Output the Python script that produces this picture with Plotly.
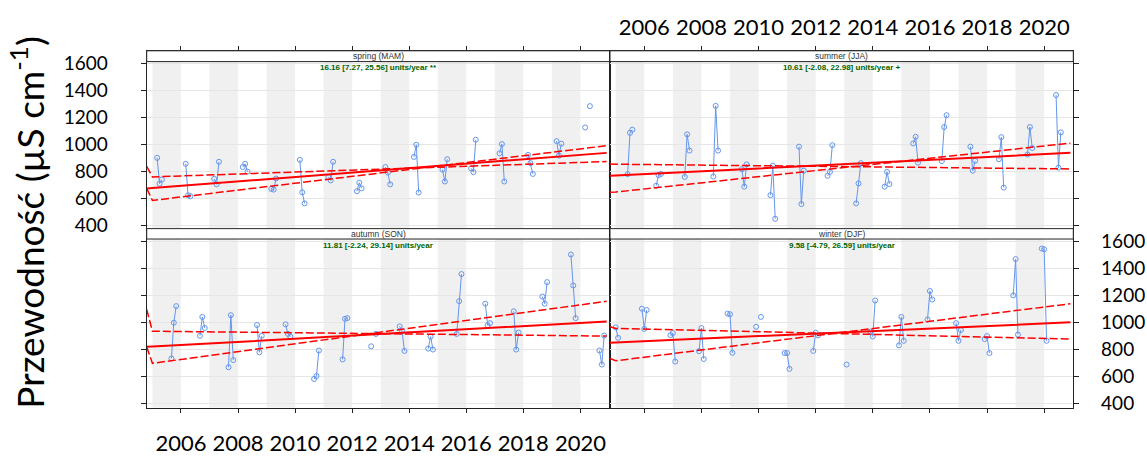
import plotly.graph_objects as go

# ---------------- data ----------------
years = list(range(2005, 2021))

spring_mar = [899, 855, 744, 831, 669, 884, 756, 652, 831, 906, 812, 822, 933, 921, 1023, 1124]
spring_apr = [708, 622, 703, 855, 664, 644, 732, 715, 790, 996, 724, 793, 1001, 860, 916, None]
spring_may = [739, 615, 870, 797, 746, 562, 870, 673, 703, 642, 889, 1033, 724, 780, 1004, 1282]

summer_jun = [778, 693, 758, 761, 815, 623, 982, 766, 562, 686, 1006, 875, 982, 889, 924, 1364]
summer_jul = [1084, 771, 1073, 1284, 686, 841, 557, 795, 710, 795, 1055, 1127, 804, 1052, 1127, 826]
summer_aug = [1108, 780, 953, 953, 851, 448, 804, 993, 860, 705, 863, 1215, 877, 679, 972, 1088]

autumn_sep = [734, 902, 669, 982, 987, 582, 727, 824, 972, 807, 916, 1140, 1084, 1193, 1505, 793]
autumn_oct = [999, 1042, 1055, 780, 916, 604, 1028, None, 936, 896, 1159, 980, 800, 1140, 1275, 689]
autumn_nov = [1122, 960, 722, 902, 896, 793, 1033, 916, 790, 800, 1360, 996, 926, 1300, 1033, 904]

# winter season year = year of Jan/Feb; Dec belongs to the previous calendar year
winter_dec = [None, 1103, 907, 788, 1067, 969, 774, 790, None, 933, 831, 1023, 996, 878, 1202, 1549]
winter_jan = [965, 953, 922, 960, 1062, None, 774, 925, None, 897, 1042, 1234, 865, 900, 1471, 1544]
winter_feb = [887, 1093, 711, 730, 776, 1042, 657, 905, 689, 1164, 865, 1171, 945, 774, 911, 865]

# trend lines (Theil-Sen fit and its 95% interval lines), knots
trend_x = [2004.80, 2005.0, 2020.92]
spring_fit = [673, 676, 936]
spring_ci_a = [836, 758, 872]
spring_ci_b = [673, 584, 989]
summer_fit = [766, 768, 936]
summer_ci_a = [853, 852, 817]
summer_ci_b = [644, 646, 1008]
autumn_fit = [820, 822, 1008]
autumn_ci_a = [1098, 936, 900]
autumn_ci_b = [820, 698, 1158]
winter_fit = [851, 853, 1002]
winter_ci_a = [969, 957, 878]
winter_ci_b = [734, 717, 1140]

strip_labels = ["spring (MAM)", "summer (JJA)", "autumn (SON)", "winter (DJF)"]
slope_labels = ["16.16 [7.27, 25.56] units/year **",
                "10.61 [-2.08, 22.98] units/year +",
                "11.81 [-2.24, 29.14] units/year",
                "9.58 [-4.79, 26.59] units/year"]

x_ticks = [2006, 2008, 2010, 2012, 2014, 2016, 2018, 2020]
y_ticks = [400, 600, 800, 1000, 1200, 1400, 1600]
y_title = "Przewodność (µS cm<sup>-1</sup>)"

# ---------------- helpers ----------------
def season_series(month_cols, month_offsets):
    xs, ys = [], []
    for i, yr in enumerate(years):
        for col, off in zip(month_cols, month_offsets):
            v = col[i]
            if v is None:
                xs.append(None); ys.append(None)
            else:
                xs.append(yr + off); ys.append(v)
        xs.append(None); ys.append(None)
    return xs, ys

series = [
    season_series([spring_mar, spring_apr, spring_may], [2/12, 3/12, 4/12]),
    season_series([summer_jun, summer_jul, summer_aug], [5/12, 6/12, 7/12]),
    season_series([autumn_sep, autumn_oct, autumn_nov], [8/12, 9/12, 10/12]),
    season_series([winter_dec, winter_jan, winter_feb], [-1/12, 0.0, 1/12]),
]
trends = [
    (spring_fit, spring_ci_a, spring_ci_b),
    (summer_fit, summer_ci_a, summer_ci_b),
    (autumn_fit, autumn_ci_a, autumn_ci_b),
    (winter_fit, winter_ci_a, winter_ci_b),
]

W, H = 1147, 456
XR = [2004.80, 2021.02]
top_rng = [378.2, 1691.6]; top_panel_top = 1611.6
bot_rng = [368.7, 1696.9]; bot_panel_top = 1619.7
ranges = [top_rng, top_rng, bot_rng, bot_rng]
panel_tops = [top_panel_top, top_panel_top, bot_panel_top, bot_panel_top]

dom_x = [[146.7 / W, 609.5 / W], [610.0 / W, 1073.3 / W]]
dom_y_top = [1 - 232.3 / H, 1 - 51.7 / H]
dom_y_bot = [1 - 415.0 / H, 1 - 232.7 / H]

BLUE = "#6495ED"
fig = go.Figure()

for k in range(4):
    xa = "x" if k == 0 else f"x{k+1}"
    ya = "y" if k == 0 else f"y{k+1}"
    xs, ys = series[k]
    fig.add_trace(go.Scatter(x=xs, y=ys, xaxis=xa, yaxis=ya, mode="lines+markers",
                             line=dict(color=BLUE, width=1),
                             marker=dict(symbol="circle-open", size=5, color=BLUE,
                                         line=dict(width=1, color=BLUE)),
                             connectgaps=False, showlegend=False, hoverinfo="skip"))
    fit, ca, cb = trends[k]
    for vals, dash, w in [(ca, "8px,3px", 1.5), (cb, "8px,3px", 1.5), (fit, "solid", 2)]:
        fig.add_trace(go.Scatter(x=trend_x, y=vals, xaxis=xa, yaxis=ya, mode="lines",
                                 line=dict(color="red", width=w, dash=dash),
                                 showlegend=False, hoverinfo="skip"))

shapes, annotations = [], []
for k in range(4):
    xa = "x" if k == 0 else f"x{k+1}"
    ya = "y" if k == 0 else f"y{k+1}"
    rng = ranges[k]; ptop = panel_tops[k]
    for yr in range(years[0], years[-1] + 1, 2):
        shapes.append(dict(type="rect", xref=xa, yref=ya, x0=yr, x1=yr + 1,
                           y0=rng[0], y1=ptop, fillcolor="#f0f0f0",
                           line=dict(width=0), layer="below"))
    shapes.append(dict(type="rect", xref=f"{xa} domain", yref=ya, x0=0, x1=1,
                       y0=ptop, y1=rng[1], fillcolor="white",
                       line=dict(color="#222", width=1), layer="above"))
    annotations.append(dict(xref=f"{xa} domain", yref=ya, x=0.5, y=(ptop + rng[1]) / 2,
                            text=strip_labels[k], showarrow=False, xanchor="center",
                            yanchor="middle",
                            font=dict(family="Liberation Sans", size=8.5, color="#333")))
    annotations.append(dict(xref=f"{xa} domain", yref=ya, x=0.5, y=1571,
                            text=f"<b>{slope_labels[k]}</b>", showarrow=False,
                            xanchor="center", yanchor="middle",
                            font=dict(family="Liberation Sans", size=8, color="darkgreen")))

annotations.append(dict(xref="paper", yref="paper", x=27 / W, y=0.503, text=y_title,
                        textangle=-90, showarrow=False, xanchor="center", yanchor="middle",
                        font=dict(family="Lato", size=37, color="black")))

def xaxis(dom, anchor, side, labels):
    return dict(domain=dom, anchor=anchor, side=side, range=XR, tickvals=x_ticks,
                ticks="outside", ticklen=4, tickcolor="#222", showticklabels=labels,
                tickfont=dict(family="Lato", size=22, color="black"),
                ticklabelstandoff=2 if side == "top" else 12,
                showline=True, linecolor="#222", linewidth=1, mirror=True,
                showgrid=False, zeroline=False)

def yaxis(dom, anchor, side, labels, rng):
    return dict(domain=dom, anchor=anchor, side=side, range=rng, tickvals=y_ticks,
                ticks="outside", ticklen=5, tickcolor="#222", showticklabels=labels,
                tickfont=dict(family="Lato", size=19, color="black"),
                ticklabelstandoff=29 if side == "left" else 18,
                showline=True, linecolor="#222", linewidth=1, mirror=True,
                showgrid=True, gridcolor="#e6e6e6", gridwidth=1, zeroline=False)

fig.update_layout(
    width=W, height=H, margin=dict(l=0, r=0, t=0, b=0),
    paper_bgcolor="white", plot_bgcolor="white",
    xaxis=xaxis(dom_x[0], "y", "top", False),
    xaxis2=xaxis(dom_x[1], "y2", "top", True),
    xaxis3=xaxis(dom_x[0], "y3", "bottom", True),
    xaxis4=xaxis(dom_x[1], "y4", "bottom", False),
    yaxis=yaxis(dom_y_top, "x", "left", True, top_rng),
    yaxis2=yaxis(dom_y_top, "x2", "right", False, top_rng),
    yaxis3=yaxis(dom_y_bot, "x3", "left", False, bot_rng),
    yaxis4=yaxis(dom_y_bot, "x4", "right", True, bot_rng),
    shapes=shapes, annotations=annotations,
)

fig.write_html("out.html", config={"displayModeBar": False},
               post_script="document.body.style.margin='0';document.body.style.padding='0';")
